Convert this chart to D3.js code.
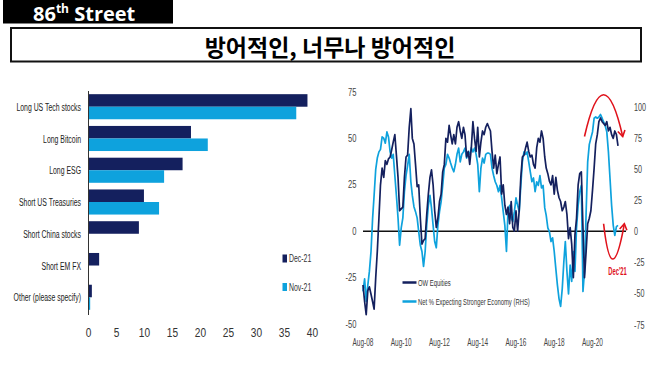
<!DOCTYPE html>
<html><head><meta charset="utf-8">
<script src="https://cdn.jsdelivr.net/npm/d3@7"></script>
<style>body{margin:0;background:#fff}svg{display:block}</style>
</head><body>
<svg id="c" width="658" height="377"></svg>
<script>
// ---------- data ----------
const categories = ["Long US Tech stocks","Long Bitcoin","Long ESG","Short US Treasuries","Short China stocks","Short EM FX","Other (please specify)"];
const seriesNames = ["Dec-21","Nov-21"];
const dec21 = [39.1, 18.3, 16.8, 9.9, 9.0, 1.9, 0.6];
const nov21 = [37.1, 21.3, 13.5, 12.6, 0, 0, 0.3];
const barTicks = [0,5,10,15,20,25,30,35,40];

const startMonth = "2008-08";
const owEquities = [
 -29,-38,-45,-32,-30,-34,-38,-42,-25,-11,
 7,25,34,29,38,36,39,40,44,48,
 52,41,29,11,12,13,29,40,41,56,
 66,50,47,36,24,25,7,-7,-5,-4,
 9,20,29,33,25,11,2,7,16,20,
 32,36,50,48,57,52,47,52,47,56,
 59,54,50,56,52,40,43,36,45,59,
 50,43,56,40,48,54,52,56,58,56,
 54,43,34,41,31,36,40,20,25,14,
 9,13,4,16,2,0,11,0,11,29,
 40,41,45,48,43,40,41,36,34,45,
 50,48,54,50,40,34,31,27,25,30,
 20,29,22,18,16,11,13,16,9,-4,
 2,-7,-25,-2,7,25,31,32,2,-25,
 -11,4,7,11,22,34,47,52,59,61,
 59,58,57,59,54,56,52,50,54,52,46];
const netStronger = [
 -48,-38,-56,-43,-32,-16,11,29,50,59,
 64,66,76,75,71,80,76,64,59,62,
 45,29,11,-11,3,11,32,45,53,62,
 40,29,20,16,11,0,-11,-16,-28,-16,
 5,21,29,19,5,-8,-13,5,16,24,
 37,51,54,62,59,55,51,48,54,62,
 67,56,62,64,67,59,64,62,67,64,
 67,62,54,32,51,59,55,62,63,63,
 62,51,45,40,37,32,37,27,16,5,
 -16,16,21,11,8,16,27,21,16,37,
 56,64,62,64,56,48,40,43,32,40,
 37,45,35,37,19,13,3,0,-8,-5,
 -16,-30,-43,-54,-60,-46,-24,-8,-32,-50,
 -27,-40,-16,-32,3,21,32,37,-48,-32,
 15,56,70,75,80,91,92,91,92,94,
 91,88,85,80,64,43,21,5,-3,4,5];
const lineNames = ["OW Equities","Net % Expecting Stronger Economy (RHS)"];
const leftTicks = [-50,-25,0,25,50,75];
const rightTicks = [-75,-50,-25,0,25,50,75,100];
const xTickLabels = ["Aug-08","Aug-10","Aug-12","Aug-14","Aug-16","Aug-18","Aug-20"];

// ---------- styles ----------
const DARK = "#14205e", LIGHT = "#0ea2dd", RED = "#e0121b";
const FONT = "'Liberation Sans', Arial, sans-serif";
const svg = d3.select("#c");

function txt(parent, x, y, str, o) {
  const g = parent.append("g").attr("transform", `translate(${x},${y}) scale(${o.sx || 1},1)`);
  return g.append("text")
    .attr("text-anchor", o.anchor || "start")
    .attr("dy", "0.35em")
    .attr("font-family", o.family || FONT)
    .attr("font-size", o.size || 10)
    .attr("font-weight", o.weight || "normal")
    .attr("fill", o.fill || "#333")
    .text(str);
}

// ---------- header ----------
svg.append("rect").attr("x", 3).attr("y", 0).attr("width", 170).attr("height", 23.5).attr("fill", "#000");
const h = svg.append("text").attr("x", 33).attr("y", 20.5)
  .attr("font-family", "'Open Sans', 'Liberation Sans', sans-serif").attr("font-weight", 700)
  .attr("font-size", 20).attr("fill", "#fff");
h.append("tspan").text("86");
h.append("tspan").attr("font-size", 12).attr("dy", -8).text("th");
h.append("tspan").attr("dy", 8).text(" Street");

svg.append("rect").attr("x", 11).attr("y", 28).attr("width", 630).attr("height", 33.5)
  .attr("fill", "none").attr("stroke", "#111").attr("stroke-width", 2);
svg.append("text").attr("x", 330).attr("y", 55.5).attr("text-anchor", "middle")
  .attr("font-family", "'Noto Sans CJK KR', sans-serif").attr("font-weight", 700)
  .attr("font-size", 23).attr("fill", "#000").text("방어적인, 너무나 방어적인");

// ---------- left bar chart ----------
const L = svg.append("g");
const xB = d3.scaleLinear().domain([0, 40]).range([88.5, 312.5]);
const yB = d3.scaleBand().domain(categories).range([91, 313]).paddingInner(0.21).paddingOuter(0.1);
const yS = d3.scaleBand().domain(seriesNames).range([0, yB.bandwidth()]);
const barRows = categories.map((c, i) => ({c, vals: [dec21[i], nov21[i]]}));
const colors = {"Dec-21": DARK, "Nov-21": LIGHT};

const row = L.selectAll("g.row").data(barRows).join("g").attr("class", "row")
  .attr("transform", d => `translate(0,${yB(d.c)})`);
row.selectAll("rect").data(d => seriesNames.map((s, k) => ({s, v: d.vals[k]})).filter(e => e.v > 0))
  .join("rect")
  .attr("x", xB(0)).attr("y", e => yS(e.s))
  .attr("width", e => xB(e.v) - xB(0)).attr("height", yS.bandwidth())
  .attr("fill", e => colors[e.s]);

L.append("line").attr("x1", xB(0)).attr("x2", xB(0)).attr("y1", 91).attr("y2", 315)
  .attr("stroke", "#333").attr("stroke-width", 1);

categories.forEach(c => txt(L, 81, yB(c) + yB.bandwidth() / 2, c, {anchor: "end", size: 11.5, sx: 0.6, fill: "#222"}));
barTicks.forEach(t => txt(L, xB(t), 332, String(t), {anchor: "middle", size: 13, sx: 0.78, fill: "#333"}));

// legend
seriesNames.forEach((s, k) => {
  const ly = 258.5 + k * 28.5;
  L.append("rect").attr("x", 282.5).attr("y", ly - 4).attr("width", 4.5).attr("height", 8).attr("fill", colors[s]);
  txt(L, 289, ly, s, {size: 10.5, sx: 0.66, fill: "#333"});
});

// ---------- right line chart ----------
const R = svg.append("g");
const parseM = d3.timeParse("%Y-%m");
const parseL = d3.timeParse("%b-%y");
const t0 = parseM(startMonth);
const dates = owEquities.map((_, i) => d3.timeMonth.offset(t0, i));
const xT = d3.scaleTime().domain([parseL("Aug-08"), parseL("Aug-20")]).range([363, 592.5]);
const yL = d3.scaleLinear().domain([-50, 75]).range([324, 92]);
const yR = d3.scaleLinear().domain([-75, 100]).range([325, 107]);

leftTicks.forEach(t => txt(R, 356.5, yL(t), String(t), {anchor: "end", size: 10, sx: 0.76, fill: "#444"}));
rightTicks.forEach(t => txt(R, 634, yR(t), String(t), {anchor: "start", size: 10, sx: 0.72, fill: "#444"}));
xTickLabels.forEach(l => txt(R, xT(parseL(l)), 342, l, {anchor: "middle", size: 10, sx: 0.65, fill: "#444"}));

R.append("line").attr("x1", 363).attr("x2", 626).attr("y1", yL(0)).attr("y2", yL(0))
  .attr("stroke", "#111").attr("stroke-width", 1.5);

const lineR = d3.line().x((d, i) => xT(dates[i])).y(d => yR(d));
const lineL = d3.line().x((d, i) => xT(dates[i])).y(d => yL(d));
R.append("path").attr("d", lineR(netStronger)).attr("fill", "none").attr("stroke", LIGHT)
  .attr("stroke-width", 1.7).attr("stroke-linejoin", "round");
R.append("path").attr("d", lineL(owEquities)).attr("fill", "none").attr("stroke", DARK)
  .attr("stroke-width", 1.7).attr("stroke-linejoin", "round");

// legend
[[DARK, 282.5], [LIGHT, 301.5]].forEach(([col, ly], k) => {
  R.append("line").attr("x1", 402.5).attr("x2", 416.5).attr("y1", ly).attr("y2", ly)
    .attr("stroke", col).attr("stroke-width", 2.5);
  txt(R, 418, ly, lineNames[k], {size: 9.5, sx: 0.62, fill: "#333"});
});

// red annotation arcs (positioned in data coordinates)
function arcArrow(p0, c, p1) {
  const P = q => [xT(parseM(q[0])), yL(q[1])];
  const a = P(p0), b = P(c), e = P(p1);
  const p = d3.path();
  p.moveTo(a[0], a[1]); p.quadraticCurveTo(b[0], b[1], e[0], e[1]);
  R.append("path").attr("d", p.toString()).attr("fill", "none").attr("stroke", RED).attr("stroke-width", 1.6);
  const ang = Math.atan2(e[1] - b[1], e[0] - b[0]);
  const len = 7, spread = 0.55;
  const hp = d3.path();
  hp.moveTo(e[0] - len * Math.cos(ang - spread), e[1] - len * Math.sin(ang - spread));
  hp.lineTo(e[0], e[1]);
  hp.lineTo(e[0] - len * Math.cos(ang + spread), e[1] - len * Math.sin(ang + spread));
  R.append("path").attr("d", hp.toString()).attr("fill", "none").attr("stroke", RED).attr("stroke-width", 1.6);
}
arcArrow(["2020-03", 51], ["2021-03", 96], ["2022-03", 51]);
arcArrow(["2021-03", 4], ["2021-08", -34], ["2022-04", 4]);
txt(R, 617.5, 271, "Dec'21", {anchor: "middle", size: 10, weight: "bold", sx: 0.58, fill: RED});
</script>
</body></html>
